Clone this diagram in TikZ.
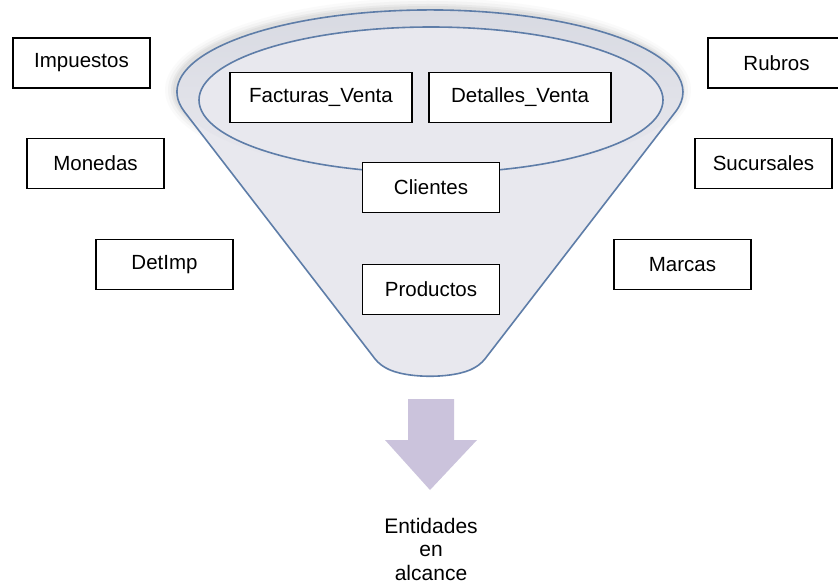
\documentclass[tikz,border=0pt]{standalone}
\usepackage{fontspec}
\setmainfont{Liberation Sans}
\begin{document}
\definecolor{funnelline}{HTML}{5E7DA8}
\definecolor{funnelfill}{HTML}{E8E8EE}
\definecolor{ringfill}{HTML}{D8DAE2}
\definecolor{arrowfill}{HTML}{CBC3DC}
\begin{tikzpicture}[x=1pt,y=-1pt,
  entity/.style={draw=black,fill=white,line width=1.3pt,minimum width=137pt,
    minimum height=50pt,inner sep=0pt,font=\fontsize{20.5}{24}\selectfont},
  wide/.style={entity,minimum width=182pt},
  funnelstroke/.style={draw=funnelline,line width=1.6pt,line join=round}]
\useasboundingbox (0,0) rectangle (838,588);
\clip (0,0) rectangle (838,588);
\fill[white] (0,0) rectangle (838,588);

% soft halo round the mouth of the funnel
\foreach \r/\o in {10/0.03,7/0.05,4/0.07,2/0.08}{
  \fill[black!55,opacity=\o] (428,90) ellipse[x radius=253+\r, y radius=82+\r];
}

% funnel outline: top arc of the mouth, the two sides and the rounded spout
\coordinate (ltan) at (184.5,111.8);
\coordinate (rtan) at (675.5,111.8);
\coordinate (lbot) at (372,355);
\coordinate (rbot) at (488,355);
\coordinate (lcorner) at (386,368);
\coordinate (rcorner) at (474,368);
\def\funnelpath{(ltan) arc[start angle=166,end angle=374,x radius=253,y radius=82]
  -- (rbot) .. controls (483.4,361) and (481.6,363.6) .. (rcorner)
  .. controls (455,379) and (405,379) .. (lcorner)
  .. controls (378.4,363.6) and (376.6,361) .. (lbot) -- cycle}
\fill[funnelfill] \funnelpath;

% shaded rim between the outer and the inner edge
\shade[top color=ringfill,middle color=ringfill,bottom color=funnelfill]
  (430,92) ellipse[x radius=253,y radius=82];
\fill[funnelfill] (431,100) ellipse[x radius=232,y radius=73];
\draw[funnelstroke] (431,100) ellipse[x radius=232,y radius=73];

\draw[funnelstroke] \funnelpath;

% entities inside the funnel
\node[wide]   (fact) at (321,97.5)  {Facturas\_Venta};
\node[wide]   (det)  at (520,97.5)  {Detalles\_Venta};
\node[entity] (cli)  at (431,187.5) {Clientes};
\node[entity] (prod) at (431,289.5) {Productos};

% entities left outside
\node[entity] (imp) at (81.5,63)   {Impuestos};
\node[entity] (mon) at (95.5,163.5) {Monedas};
\node[entity] (dimp) at (164.5,264.5) {DetImp};
\node[entity] (rub) at (776.5,63)  {Rubros};
\node[entity] (suc) at (763.5,163.5) {Sucursales};
\node[entity] (mar) at (682.5,264.5) {Marcas};

% downward block arrow
\fill[arrowfill] (408,399) -- (454,399) -- (454,440) -- (477,440) -- (430,490)
  -- (385,440) -- (408,440) -- cycle;

\node[align=center,font=\fontsize{21}{23.5}\selectfont,inner sep=0pt]
  (scope) at (431,549) {Entidades\\en\\alcance};
\end{tikzpicture}
\end{document}
